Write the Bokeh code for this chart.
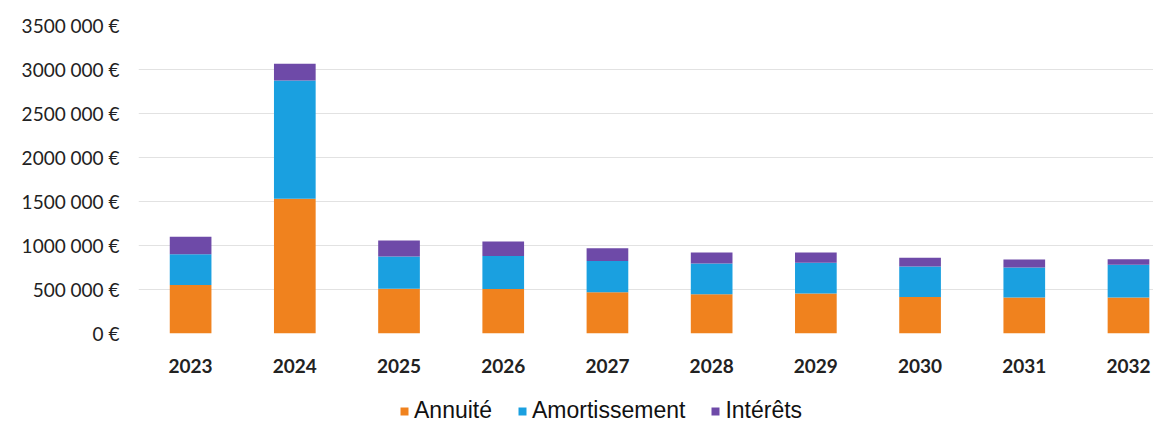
from bokeh.plotting import figure
from bokeh.models import ColumnDataSource, FixedTicker, Legend, LegendItem
from bokeh.layouts import column
from bokeh.embed import file_html
from bokeh.resources import INLINE

years = ["2023", "2024", "2025", "2026", "2027", "2028", "2029", "2030", "2031", "2032"]
annuite = [550000, 1530000, 508000, 505000, 470000, 447000, 455000, 415000, 410000, 410000]
amortissement = [350000, 1345000, 367000, 375000, 355000, 348000, 350000, 345000, 340000, 370000]
interets = [200000, 190000, 182000, 165000, 145000, 125000, 115000, 100000, 90000, 65000]
y_ticks = [0, 500000, 1000000, 1500000, 2000000, 2500000, 3000000, 3500000]

colors = ["#F0821E", "#1AA0E0", "#6E4AA8"]
names = ["Annuité", "Amortissement", "Intérêts"]

idx = list(range(len(years)))
src = ColumnDataSource(dict(x=idx, a=annuite, b=amortissement, c=interets))

p = figure(frame_width=1015, frame_height=308, output_backend="svg", toolbar_location=None,
           x_range=(-0.5, 9.24), y_range=(0, 3500000),
           min_border_left=138, min_border_right=0, min_border_top=25, min_border_bottom=62)
p.outline_line_color = None
p.background_fill_color = "white"

r = p.vbar_stack(["a", "b", "c"], x="x", width=0.4, source=src, color=colors, line_color=None)

p.xaxis.ticker = FixedTicker(ticks=idx)
p.xaxis.major_label_overrides = {i: y for i, y in enumerate(years)}
p.xaxis.axis_line_color = None
p.xaxis.major_tick_line_color = None
p.xaxis.minor_tick_line_color = None
p.xaxis.major_label_text_font = "Lato"
p.xaxis.major_label_text_font_size = "19px"
p.xaxis.major_label_text_font_style = "bold"
p.xaxis.major_label_text_color = "#222222"
p.xaxis.major_label_standoff = 19

def fmt(v):
    s = str(v)
    if len(s) > 3:
        s = s[:-3] + " " + s[-3:]
    return s + " €"

p.yaxis.ticker = FixedTicker(ticks=y_ticks)
p.yaxis.major_label_overrides = {t: fmt(t) for t in y_ticks}
p.yaxis.axis_line_color = None
p.yaxis.major_tick_line_color = None
p.yaxis.minor_tick_line_color = None
p.yaxis.major_label_text_font = "Lato"
p.yaxis.major_label_text_font_size = "19px"
p.yaxis.major_label_text_color = "#222222"
p.yaxis.major_label_standoff = 13

p.xgrid.grid_line_color = None
p.ygrid.grid_line_color = "#E2E2E2"
p.ygrid.grid_line_width = 1

# legend in its own strip below the chart (key glyphs sit outside the strip's visible range)
lg = figure(frame_width=1153, frame_height=32, output_backend="svg", toolbar_location=None,
            x_range=(0, 1), y_range=(0, 1),
            min_border_left=0, min_border_right=0, min_border_top=0, min_border_bottom=0)
lg.axis.visible = False
lg.grid.visible = False
lg.outline_line_color = None
keys = [lg.vbar(x=[5], top=[1], width=0.1, color=c, line_color=None) for c in colors]
legend = Legend(items=[LegendItem(label=n, renderers=[k]) for n, k in zip(names, keys)],
                orientation="horizontal", location=(399, 3))
legend.label_text_font = "Liberation Sans"
legend.label_text_font_size = "23px"
legend.label_text_color = "#111111"
legend.glyph_width = 10
legend.glyph_height = 10
legend.spacing = 25
legend.label_standoff = 5
legend.border_line_color = None
legend.background_fill_alpha = 0
legend.padding = 0
legend.margin = 0
lg.add_layout(legend, "center")

open("out.html", "w").write(file_html(column(p, lg, spacing=0), INLINE))
